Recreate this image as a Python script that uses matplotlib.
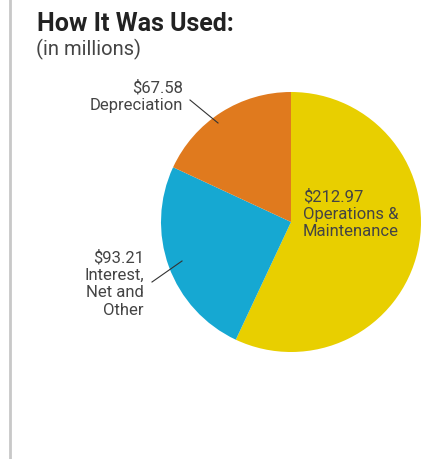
import matplotlib.pyplot as plt
from matplotlib.lines import Line2D

plt.rcParams['font.family'] = ['Roboto', 'DejaVu Sans']

values = [212.97, 93.21, 67.58]
amounts = ['$212.97', '$93.21', '$67.58']
names = ['Operations &\nMaintenance', 'Interest,\nNet and\nOther', 'Depreciation']
colors = ['#E8CF00', '#16A8D2', '#E07A1E']

W, H = 432, 460
fig = plt.figure(figsize=(W / 100, H / 100), dpi=100)


def fx(x):
    return x / W


def fy(y):
    return 1 - y / H


# pie centre and radius in pixels
cx, cy, r = 291, 223, 130
ax = fig.add_axes([fx(cx - r), fy(cy + r), 2 * r / W, 2 * r / H])
ax.pie(values, colors=colors, startangle=90, counterclock=False,
       radius=1, wedgeprops=dict(linewidth=0))
ax.set_xlim(-1, 1)
ax.set_ylim(-1, 1)
ax.set_aspect('auto')
ax.axis('off')

# left border line
fig.add_artist(Line2D([fx(10), fx(10)], [0, 1], color='#c8c8c8', lw=2))

fig.text(fx(37), fy(31), 'How It Was Used:', fontsize=18, fontweight='bold',
         color='#222222')
fig.text(fx(36), fy(55), '(in millions)', fontsize=14.5, color='#444444')

txt = '#444444'
fs = 12
kw = dict(fontsize=fs, color=txt, va='top', linespacing=1.2)
fig.text(fx(303), fy(189), amounts[0] + '\n' + names[0], ha='left', **kw)
fig.text(fx(144), fy(250), amounts[1] + '\n' + names[1], ha='right',
         multialignment='right', **kw)
fig.text(fx(183), fy(80), amounts[2] + '\n' + names[2], ha='right',
         multialignment='right', **kw)

# leader lines
fig.add_artist(Line2D([fx(190), fx(218)], [fy(101), fy(124)], color='#333333', lw=0.8))
fig.add_artist(Line2D([fx(152), fx(182)], [fy(283), fy(262)], color='#333333', lw=0.8))

fig.savefig('out.png', dpi=100)
